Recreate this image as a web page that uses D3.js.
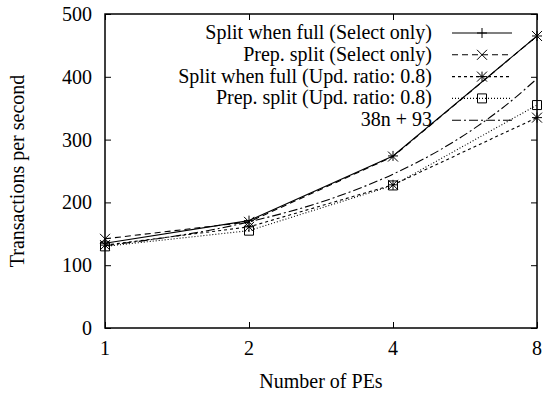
<!DOCTYPE html>
<html><head><meta charset="utf-8"><script src="https://cdn.jsdelivr.net/npm/d3@7"></script></head>
<body style="margin:0">
<svg width="545" height="394"></svg>
<script>
// data
const pes = [1, 2, 4, 8];
const splitFullSelect = [135, 171, 274, 465];
const prepSplitSelect = [142, 169, 273, 465];
const splitFullUpd = [132, 161, 228, 335];
const prepSplitUpd = [130, 155, 227, 355];
const fitN = [1, 2, 3, 4, 5, 6, 7, 8];
const fitValues = [131, 169, 207, 245, 283, 321, 359, 397];
const yTicks = [0, 100, 200, 300, 400, 500];

const series = [
    { name: 'Split when full (Select only)', xs: pes, ys: splitFullSelect, dash: null, marker: 'plus' },
    { name: 'Prep. split (Select only)', xs: pes, ys: prepSplitSelect, dash: '6,4', marker: 'cross' },
    { name: 'Split when full (Upd. ratio: 0.8)', xs: pes, ys: splitFullUpd, dash: '3,3', marker: 'star' },
    { name: 'Prep. split (Upd. ratio: 0.8)', xs: pes, ys: prepSplitUpd, dash: '1,2', marker: 'box' },
    { name: '38n + 93', xs: fitN, ys: fitValues, dash: '9,3,2,3', marker: null }
];

const marginLeft = 105;
const marginRight = 8;
const marginTop = 14;
const marginBottom = 66;
const width = 545;
const height = 394;

const svg = d3.select('svg');

// plain text helper, same way for every label
function label(x0, y0, str, anchor) {
    return svg.append('text')
        .attr('x', x0)
        .attr('y', y0)
        .attr('text-anchor', anchor)
        .style('font-family', '"Liberation Serif"')
        .style('font-size', '20px')
        .text(str);
}

const x = d3.scaleLog().base(2)
    .domain([1, 8])
    .range([marginLeft, width - marginRight]);

const y = d3.scaleLinear()
    .domain([0, 500])
    .range([height - marginBottom, marginTop]);

// ticks only from d3 axes (inward, mirrored like gnuplot); labels drawn by hand
svg.append('g')
    .attr('transform', `translate(0,${height - marginBottom})`)
    .call(d3.axisBottom(x).tickValues(pes).tickFormat('').tickSizeInner(-6).tickSizeOuter(0))
    .call(g => g.select('.domain').remove());

svg.append('g')
    .attr('transform', `translate(0,${marginTop})`)
    .call(d3.axisTop(x).tickValues(pes).tickFormat('').tickSizeInner(-6).tickSizeOuter(0))
    .call(g => g.select('.domain').remove());

svg.append('g')
    .attr('transform', `translate(${marginLeft},0)`)
    .call(d3.axisLeft(y).tickValues(yTicks).tickFormat('').tickSizeInner(-6).tickSizeOuter(0))
    .call(g => g.select('.domain').remove());

svg.append('g')
    .attr('transform', `translate(${width - marginRight},0)`)
    .call(d3.axisRight(y).tickValues(yTicks).tickFormat('').tickSizeInner(-6).tickSizeOuter(0))
    .call(g => g.select('.domain').remove());

svg.selectAll('.tick line').attr('stroke', '#000').attr('stroke-width', 1);
svg.selectAll('.tick text').remove();

pes.forEach(v => label(x(v), 355, String(v), 'middle'));
yTicks.forEach(v => label(92, y(v) + 7, String(v), 'end'));

svg.append('rect')
    .attr('x', marginLeft)
    .attr('y', marginTop)
    .attr('width', width - marginLeft - marginRight)
    .attr('height', height - marginTop - marginBottom)
    .attr('fill', 'none')
    .attr('stroke', '#000')
    .attr('stroke-width', 1.5);

// axis titles
label(321, 388, 'Number of PEs', 'middle');
label(0, 0, 'Transactions per second', 'middle')
    .attr('x', null).attr('y', null)
    .attr('transform', 'translate(24,171) rotate(-90)');

function drawMarker(g, type, cx, cy) {
    const s = 5;
    const p = d3.path();
    if (type === 'plus' || type === 'star') {
        p.moveTo(cx - s, cy); p.lineTo(cx + s, cy);
        p.moveTo(cx, cy - s); p.lineTo(cx, cy + s);
    }
    if (type === 'cross' || type === 'star') {
        p.moveTo(cx - s, cy - s); p.lineTo(cx + s, cy + s);
        p.moveTo(cx - s, cy + s); p.lineTo(cx + s, cy - s);
    }
    if (type === 'box') {
        p.rect(cx - 4.5, cy - 4.5, 9, 9);
    }
    g.append('path')
        .attr('d', p.toString())
        .attr('fill', 'none')
        .attr('stroke', '#000')
        .attr('stroke-width', 1);
}

const plot = svg.append('g');

series.forEach(s => {
    const pts = s.xs.map((v, i) => [v, s.ys[i]]);
    const line = d3.line()
        .x(d => x(d[0]))
        .y(d => y(d[1]))
        .curve(s.marker ? d3.curveLinear : d3.curveMonotoneX);
    plot.append('path')
        .attr('d', line(pts))
        .attr('fill', 'none')
        .attr('stroke', '#000')
        .attr('stroke-width', 1.1)
        .attr('stroke-dasharray', s.dash);
    if (s.marker) {
        pts.forEach(p => drawMarker(plot, s.marker, x(p[0]), y(p[1])));
    }
});

// legend
series.forEach((s, i) => {
    const ly = 33 + i * 21.8;
    label(432, ly + 6, s.name, 'end');
    svg.append('line')
        .attr('x1', 452).attr('x2', 512)
        .attr('y1', ly).attr('y2', ly)
        .attr('stroke', '#000')
        .attr('stroke-width', 1.1)
        .attr('stroke-dasharray', s.dash);
    if (s.marker) drawMarker(svg, s.marker, 482, ly);
});
</script>
</body>
</html>
